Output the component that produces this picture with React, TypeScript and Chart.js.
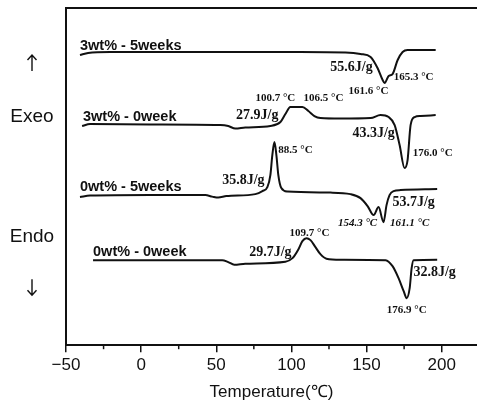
import { useEffect, useRef } from 'react';
import { Chart, registerables } from 'chart.js';

Chart.register(...registerables);

// Axis ticks (°C)
const xMajorTicks = [-50, 0, 50, 100, 150, 200];
const xMinorTicks = [-25, 25, 75, 125, 175];

// Series: temperature (°C) and offset heat-flow (arbitrary units)
const t3wt5w = [-40.7, -35.3, -20.7, 39.3, 106, 136, 146, 152.7, 157.3, 160.7, 162, 164.7, 167.3, 170.7, 174, 177.3, 196];
const v3wt5w = [290, 292, 293, 293, 293, 292.5, 291, 288, 277, 265, 262, 269, 271, 285, 293, 295, 295];

const t3wt0w = [-39.3, -34, 6, 52.7, 58, 62.7, 69.3, 86, 92.7, 96, 99.3, 107.3, 111.3, 115.3, 119.3, 132.7, 152.7, 159.3, 164.7, 168.7, 172, 175.3, 177.3, 179.3, 182, 186, 196];
const v3wt0w = [219, 221, 220.5, 220, 219, 216.5, 217.5, 219, 223, 231, 238, 238, 234, 229, 227, 226.5, 227, 230, 228, 220, 200, 177, 185, 220, 228, 229, 230];

const t0wt5w = [-40.7, -34, 6, 42.7, 47.3, 51.3, 56.7, 76, 80.7, 84, 86, 87.3, 88.7, 90, 91.3, 93.3, 97.3, 126, 139.3, 146, 150.7, 154.7, 158, 161.3, 163.3, 165.3, 168, 172.7, 197];
const v0wt5w = [148, 149.5, 150, 150, 148.5, 147.5, 149, 151, 154, 158, 170, 190, 203, 190, 170, 157, 153.5, 152.5, 151, 147, 139, 130, 138, 123, 140, 150, 154, 155, 156];

const t0wt0w = [-32, 6, 54, 58, 62, 69.3, 96, 100.7, 104.7, 107.3, 110, 112.7, 116, 119.3, 123.3, 132.7, 162.7, 167.3, 171.3, 174.7, 176.7, 178.7, 180, 181.3, 197];
const v0wt0w = [85, 85, 85, 83, 80.5, 81.5, 83.5, 87, 96, 104, 107, 105, 98, 91, 86.5, 85.5, 85, 79, 67, 54, 47, 57, 77, 85, 85.5];

const seriesT = [t3wt5w, t3wt0w, t0wt5w, t0wt0w];
const seriesV = [v3wt5w, v3wt0w, v0wt5w, v0wt0w];

// Series name labels and anchors (data units)
const seriesNames = ['3wt% - 5weeks', '3wt% - 0week', '0wt% - 5weeks', '0wt% - 0week'];
const seriesNameT = [-40.7, -38.7, -40.7, -32];
const seriesNameV = [299, 228, 158, 93];

// Peak annotations
const noteTexts = ['55.6J/g', '165.3 °C', '161.6 °C', '100.7 °C', '106.5 °C', '27.9J/g', '43.3J/g', '176.0 °C', '88.5 °C', '35.8J/g', '53.7J/g', '154.3 °C', '161.1 °C', '109.7 °C', '29.7J/g', '32.8J/g', '176.9 °C'];
const noteT = [140, 181.3, 151.3, 89.3, 121.3, 77.3, 154.7, 194, 102.7, 68, 181.3, 144, 178.7, 112, 86, 195.3, 176.7];
const noteV = [278, 268, 254, 247, 247, 230, 212, 192, 195, 165, 143, 122, 122, 112, 93, 73, 35];
const noteItalic = [false, false, false, false, false, false, false, false, false, false, false, true, true, false, false, false, false];

// Side labels (Exo/Endo direction); arrows drawn as strokes
const sideTexts = ['Exeo', 'Endo'];
const sideV = [228, 108];
const arrowDirs = [1, -1];
const arrowV = [282, 58];

const decorPlugin = {
  id: 'decor',
  afterDraw(chart: any) {
    const { ctx, chartArea, scales } = chart;
    const xs = scales.x;
    const ys = scales.y;
    ctx.save();
    ctx.strokeStyle = '#111';
    ctx.lineWidth = 2;
    // frame: top & left
    ctx.beginPath();
    ctx.moveTo(chartArea.left, chartArea.bottom);
    ctx.lineTo(chartArea.left, chartArea.top);
    ctx.lineTo(chartArea.right, chartArea.top);
    ctx.stroke();
    // minor ticks
    ctx.lineWidth = 1.5;
    xMinorTicks.forEach((t) => {
      const px = xs.getPixelForValue(t);
      ctx.beginPath();
      ctx.moveTo(px, chartArea.bottom);
      ctx.lineTo(px, chartArea.bottom + 4);
      ctx.stroke();
    });
    // series names
    ctx.fillStyle = '#111';
    ctx.textBaseline = 'middle';
    ctx.textAlign = 'left';
    ctx.font = 'bold 14.5px "Liberation Sans", Arial, sans-serif';
    seriesNames.forEach((s, i) => {
      ctx.fillText(s, xs.getPixelForValue(seriesNameT[i]), ys.getPixelForValue(seriesNameV[i]));
    });
    // annotations
    ctx.textAlign = 'center';
    noteTexts.forEach((s, i) => {
      const big = s.indexOf('J/g') >= 0;
      const sz = big ? 14 : 11;
      ctx.font = `${noteItalic[i] ? 'italic ' : ''}bold ${sz}px "Liberation Serif", "Times New Roman", serif`;
      ctx.fillText(s, xs.getPixelForValue(noteT[i]), ys.getPixelForValue(noteV[i]));
    });
    // side labels
    const cx = chartArea.left - 34;
    ctx.font = '19px "Liberation Sans", Arial, sans-serif';
    sideTexts.forEach((s, i) => {
      ctx.fillText(s, cx, ys.getPixelForValue(sideV[i]));
    });
    ctx.lineWidth = 1.4;
    arrowDirs.forEach((d, i) => {
      const cy = ys.getPixelForValue(arrowV[i]);
      const tip = cy - d * 8;
      const tail = cy + d * 8;
      ctx.beginPath();
      ctx.moveTo(cx, tail);
      ctx.lineTo(cx, tip);
      ctx.moveTo(cx - 4.5, tip + d * 5);
      ctx.lineTo(cx, tip);
      ctx.lineTo(cx + 4.5, tip + d * 5);
      ctx.stroke();
    });
    ctx.restore();
  },
};

export default function App() {
  const ref = useRef<HTMLCanvasElement | null>(null);
  useEffect(() => {
    if (!ref.current) return;
    const chart = new Chart(ref.current, {
      type: 'line',
      data: {
        datasets: seriesT.map((ts, i) => ({
          label: seriesNames[i],
          data: ts.map((t, j) => ({ x: t, y: seriesV[i][j] })),
          borderColor: '#111',
          borderWidth: 2,
          pointRadius: 0,
          fill: false,
          cubicInterpolationMode: 'monotone' as const,
        })),
      },
      options: {
        animation: false,
        responsive: false,
        layout: { padding: { left: 66, top: 8, right: 0, bottom: 1 } },
        plugins: { legend: { display: false }, tooltip: { enabled: false } },
        scales: {
          x: {
            type: 'linear',
            min: -50,
            max: 223.5,
            afterBuildTicks: (axis: any) => {
              axis.ticks = xMajorTicks.map((v) => ({ value: v }));
            },
            ticks: {
              includeBounds: false,
              color: '#111',
              padding: 3,
              font: { family: '"Liberation Sans", Arial, sans-serif', size: 17 },
              callback: (v: any) => (Number(v) < 0 ? '\u2212' + Math.abs(Number(v)) : String(v)),
              maxRotation: 0,
            },
            grid: {
              display: true,
              drawOnChartArea: false,
              drawTicks: true,
              tickLength: 7,
              color: '#111',
              lineWidth: 1.5,
            },
            border: { display: true, color: '#111', width: 2 },
            title: {
              display: true,
              text: 'Temperature(℃)',
              color: '#111',
              font: { family: '"Liberation Sans", Arial, sans-serif', size: 17 },
              padding: { top: 4, bottom: 4 },
            },
          },
          y: {
            type: 'linear',
            display: false,
            min: 0,
            max: 337,
          },
        },
      },
      plugins: [decorPlugin],
    });
    return () => chart.destroy();
  }, []);
  return (
    <div style={{ position: 'absolute', left: 0, top: 0, width: 477, height: 408, background: '#fff' }}>
      <canvas ref={ref} width={477} height={408} style={{ width: 477, height: 408 }} />
    </div>
  );
}
